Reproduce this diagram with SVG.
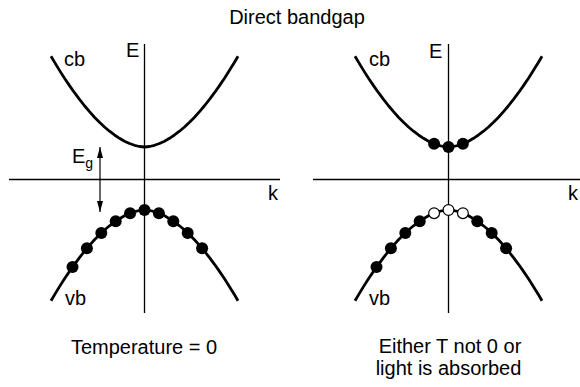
<svg xmlns="http://www.w3.org/2000/svg" xmlns:xlink="http://www.w3.org/1999/xlink" width="580" height="387" viewBox="0 0 580 387">
<style>
text{font-family:"Liberation Sans",Arial,Helvetica,sans-serif;fill:#000;font-size:20px}
.c{text-anchor:middle}
.ax{stroke:#000;stroke-width:1.3;fill:none}
.band{stroke:#000;stroke-width:2.8;fill:none;stroke-linejoin:round}
.e{fill:#000}
.h{fill:#fff;stroke:#000;stroke-width:1.2}
</style>
<defs>
<path id="curve" d="M-93.5,90.8 L-90,84.85 L-85,76.64 L-80,68.8 L-75,61.39 L-70,54.29 L-65,47.58 L-60,41.25 L-55,35.33 L-50,29.81 L-45,24.72 L-40,20.04 L-35,15.8 L-30,12.01 L-25,8.68 L-20,5.83 L-15,3.5 L-10,1.7 L-5,0.5 L0,0 L5,0.5 L10,1.7 L15,3.5 L20,5.83 L25,8.68 L30,12.01 L35,15.8 L40,20.04 L45,24.72 L50,29.81 L55,35.33 L60,41.25 L65,47.58 L70,54.29 L75,61.39 L80,68.8 L85,76.64 L90,84.85 L93.5,90.8"/>
<marker id="ah" markerUnits="userSpaceOnUse" viewBox="0 0 11 6" refX="11" refY="3" markerWidth="11" markerHeight="6" orient="auto-start-reverse">
<path d="M0,0 L11,3 L0,6 z" fill="#000"/>
</marker>
</defs>
<text id="title" class="c" x="297" y="24">Direct bandgap</text>
<g id="left-panel">
<g id="left-axes">
<line class="ax" x1="144.5" y1="44" x2="144.5" y2="313"/>
<line class="ax" x1="9" y1="179.5" x2="280" y2="179.5"/>
</g>
<g id="left-cb"><use href="#curve" class="band" transform="translate(144.5,147) scale(1,-1)"/></g>
<g id="left-vb"><use href="#curve" class="band" transform="translate(144.5,210)"/></g>
<g id="left-electrons">
<circle class="e" cx="72.5" cy="267.1" r="6"/>
<circle class="e" cx="86.9" cy="248.3" r="6"/>
<circle class="e" cx="101.3" cy="233" r="6"/>
<circle class="e" cx="115.7" cy="221.2" r="6"/>
<circle class="e" cx="130.1" cy="213.2" r="6"/>
<circle class="e" cx="144.5" cy="210" r="6"/>
<circle class="e" cx="158.9" cy="213.2" r="6"/>
<circle class="e" cx="173.3" cy="221.2" r="6"/>
<circle class="e" cx="187.7" cy="233" r="6"/>
<circle class="e" cx="202.1" cy="248.3" r="6"/>
</g>
<g id="eg-arrow">
<line x1="100" y1="147" x2="100" y2="212" stroke="#000" stroke-width="1.2" marker-start="url(#ah)" marker-end="url(#ah)"/>
</g>
<text x="64" y="66">cb</text>
<text x="126" y="57">E</text>
<text x="65" y="305">vb</text>
<text x="268" y="200">k</text>
<text x="72" y="163">E<tspan font-size="14" dy="5">g</tspan></text>
<text class="c" x="144" y="354">Temperature = 0</text>
</g>
<g id="right-panel">
<g id="right-axes">
<line class="ax" x1="448.5" y1="44" x2="448.5" y2="313"/>
<line class="ax" x1="313" y1="179.5" x2="580" y2="179.5"/>
</g>
<g id="right-cb"><use href="#curve" class="band" transform="translate(448.5,147) scale(1,-1)"/></g>
<g id="right-vb"><use href="#curve" class="band" transform="translate(448.5,210)"/></g>
<g id="right-cb-electrons">
<circle class="e" cx="434.1" cy="143.8" r="6"/>
<circle class="e" cx="448.5" cy="147" r="6"/>
<circle class="e" cx="462.9" cy="143.8" r="6"/>
</g>
<g id="right-vb-electrons">
<circle class="e" cx="376.5" cy="267.1" r="6"/>
<circle class="e" cx="390.9" cy="248.3" r="6"/>
<circle class="e" cx="405.3" cy="233" r="6"/>
<circle class="e" cx="419.7" cy="221.2" r="6"/>
<circle class="e" cx="477.3" cy="221.2" r="6"/>
<circle class="e" cx="491.7" cy="233" r="6"/>
<circle class="e" cx="506.1" cy="248.3" r="6"/>
</g>
<g id="right-holes">
<circle class="h" cx="434.1" cy="213.2" r="5.4"/>
<circle class="h" cx="448.5" cy="210" r="5.4"/>
<circle class="h" cx="462.9" cy="213.2" r="5.4"/>
</g>
<text x="369" y="66">cb</text>
<text x="429" y="58">E</text>
<text x="369" y="305">vb</text>
<text x="568" y="200">k</text>
<text class="c" x="450" y="353">Either T not 0 or</text>
<text class="c" x="448.5" y="375">light is absorbed</text>
</g>
</svg>
